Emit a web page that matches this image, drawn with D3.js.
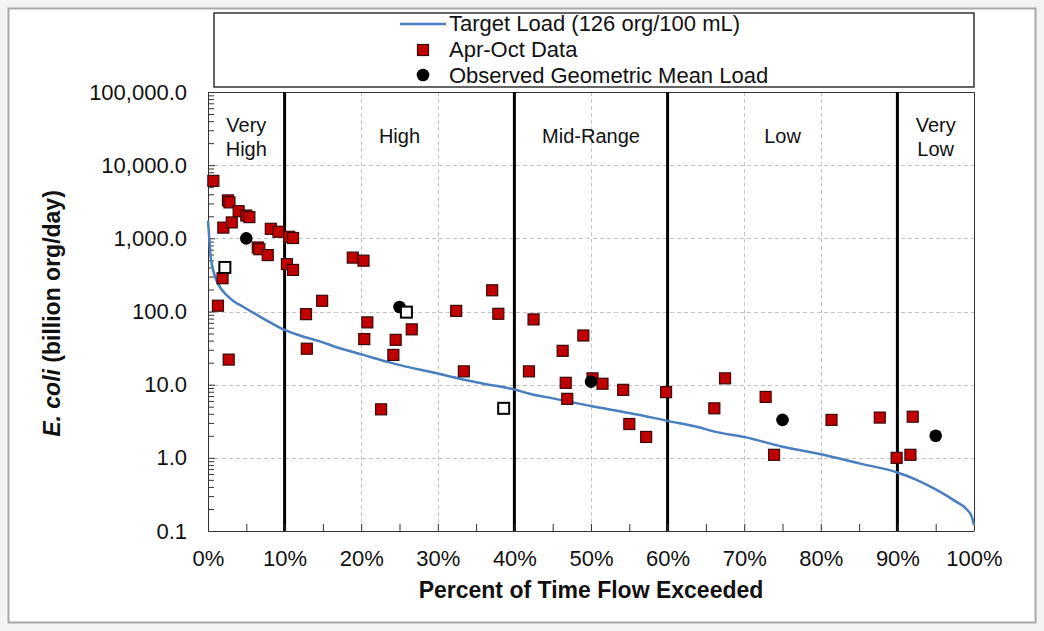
<!DOCTYPE html>
<html>
<head>
<meta charset="utf-8">
<script src="https://cdn.jsdelivr.net/npm/d3@7/dist/d3.min.js"></script>
<style>
  html, body { margin: 0; padding: 0; background: #f3f3f3; }
  svg { display: block; font-family: "Liberation Sans", Arial, sans-serif; }
</style>
</head>
<body>
<svg id="chart" width="1044" height="631"></svg>
<script>
// Load duration curve: percent of time flow exceeded vs. E. coli load (billion org/day)
const curvePct = [0, 0.2, 0.35, 0.8, 1.35, 2.5, 3.5, 4.6, 6, 8, 10, 12, 14.6, 17, 20.3, 23.8, 26, 29, 33.3, 36, 40, 42, 45, 50, 55, 60, 64.2, 66, 70.1, 75, 80, 85, 90, 92.5, 95, 97.7, 99, 99.7, 100];
const curveLoad = [1750, 900, 560, 330, 235, 165, 135, 116, 95, 72, 56, 47, 39, 32, 25.5, 20, 17.5, 15, 11.8, 10.3, 8.6, 7.5, 6.5, 5.1, 4.1, 3.2, 2.6, 2.3, 1.92, 1.42, 1.12, 0.84, 0.63, 0.5, 0.37, 0.25, 0.2, 0.157, 0.12];

// Apr-Oct samples
const aprOctPct = [0.7, 2.6, 2.8, 4.0, 5.0, 5.4, 2.0, 3.1, 8.2, 9.2, 10.6, 11.1, 6.5, 6.7, 7.8, 10.3, 11.1, 1.9, 1.3, 12.8, 12.9, 2.7, 14.9, 18.9, 20.3, 20.8, 20.4, 24.5, 24.2, 26.6, 32.4, 37.1, 37.9, 33.4, 22.6, 42.5, 49.0, 46.3, 41.9, 46.7, 46.9, 50.2, 51.5, 54.2, 55.0, 57.2, 59.8, 67.5, 66.1, 72.8, 73.9, 81.4, 87.7, 92.0, 89.9, 91.7];
const aprOctLoad = [6100, 3300, 3100, 2350, 2050, 1950, 1400, 1650, 1350, 1230, 1050, 1010, 750, 710, 590, 445, 370, 285, 120, 92, 31, 22, 140, 545, 495, 71, 42, 41, 25.5, 57, 102, 195, 93, 15.2, 4.6, 78, 47, 29, 15.2, 10.6, 6.4, 12.2, 10.3, 8.5, 2.9, 1.93, 7.9, 12.2, 4.75, 6.8, 1.1, 3.3, 3.55, 3.65, 1.0, 1.1];

// Other samples (open markers)
const otherPct = [2.2, 25.9, 38.6];
const otherLoad = [400, 98, 4.75];

// Geometric mean load per flow zone
const meanPct = [5, 25, 50, 75, 95];
const meanLoad = [1000, 115, 11, 3.3, 2.0];

// Flow zones
const zoneBreaks = [10, 40, 60, 90];
const zoneNames = [["Very", "High"], ["High"], ["Mid-Range"], ["Low"], ["Very", "Low"]];
const zoneCenters = [5, 25, 50, 75, 95];

const yTicks = [0.1, 1, 10, 100, 1000, 10000, 100000];
const xTicks = [0, 10, 20, 30, 40, 50, 60, 70, 80, 90, 100];

const svg = d3.select("#chart");
const W = 1044, H = 631;
const plot = { left: 208, right: 974, top: 92, bottom: 531 };

// Framed white panel
svg.append("rect").attr("x", 8.5).attr("y", 8.5).attr("width", 1027).attr("height", 614)
  .attr("fill", "#fff").attr("stroke", "#a9a9a9").attr("stroke-width", 2);

const x = d3.scaleLinear().domain([0, 100]).range([plot.left, plot.right]);
const y = d3.scaleLog().domain([0.1, 100000]).range([plot.bottom, plot.top]);

// Grid
const grid = svg.append("g").attr("stroke", "#c4c4c4").attr("stroke-dasharray", "4,3").attr("stroke-width", 1);
grid.selectAll("line.h").data(yTicks.slice(1, -1)).join("line")
  .attr("x1", plot.left).attr("x2", plot.right)
  .attr("y1", d => Math.round(y(d)) + 0.5).attr("y2", d => Math.round(y(d)) + 0.5);
grid.selectAll("line.v").data(xTicks.slice(1, -1).filter(d => !zoneBreaks.includes(d))).join("line")
  .attr("y1", plot.top).attr("y2", plot.bottom)
  .attr("x1", d => Math.round(x(d)) + 0.5).attr("x2", d => Math.round(x(d)) + 0.5);

// Plot frame (top/right)
svg.append("path")
  .attr("d", `M${plot.left},${plot.top + 0.5}H${plot.right + 0.5}V${plot.bottom}`)
  .attr("fill", "none").attr("stroke", "#333").attr("stroke-width", 1);

// Zone boundaries
svg.append("g").selectAll("line").data(zoneBreaks).join("line")
  .attr("x1", d => x(d)).attr("x2", d => x(d))
  .attr("y1", plot.top).attr("y2", plot.bottom)
  .attr("stroke", "#000").attr("stroke-width", 3);

// Zone labels
const zl = svg.append("g").attr("font-size", 20).attr("fill", "#111").attr("text-anchor", "middle");
zoneNames.forEach((lines, i) => {
  const t = zl.append("text").attr("x", x(zoneCenters[i]));
  if (lines.length === 2) {
    t.append("tspan").attr("x", x(zoneCenters[i])).attr("y", 132).text(lines[0]);
    t.append("tspan").attr("x", x(zoneCenters[i])).attr("y", 155.5).text(lines[1]);
  } else {
    t.attr("y", 142.5).text(lines[0]);
  }
});

// Axes
const minorY = [];
for (let e = -1; e < 5; e++) for (let m = 2; m <= 9; m++) minorY.push(m * Math.pow(10, e));
const minorX = d3.range(5, 100, 10);

const yAxis = svg.append("g").attr("transform", `translate(${plot.left},0)`)
  .call(d3.axisLeft(y).tickValues(yTicks).tickFormat(d3.format(",.1f")).tickSizeInner(-7).tickSizeOuter(0).tickPadding(21));
yAxis.append("g").call(d3.axisLeft(y).tickValues(minorY).tickFormat("").tickSizeInner(-6).tickSizeOuter(0))
  .select(".domain").remove();
yAxis.selectAll("text").attr("font-size", 22).attr("fill", "#111").attr("font-family", "Liberation Sans, Arial, sans-serif");
yAxis.selectAll("line, path").attr("stroke", "#333");

const xAxis = svg.append("g").attr("transform", `translate(0,${plot.bottom})`)
  .call(d3.axisBottom(x).tickValues(xTicks).tickFormat(d => d + "%").tickSizeInner(-7).tickSizeOuter(0).tickPadding(19));
xAxis.append("g").call(d3.axisBottom(x).tickValues(minorX).tickFormat("").tickSizeInner(-7).tickSizeOuter(0))
  .select(".domain").remove();
xAxis.selectAll("text").attr("font-size", 22).attr("fill", "#111").attr("font-family", "Liberation Sans, Arial, sans-serif");
xAxis.selectAll("line, path").attr("stroke", "#333");

// Axis titles
svg.append("text").attr("x", x(50)).attr("y", 598).attr("text-anchor", "middle")
  .attr("font-size", 23).attr("font-weight", "bold").attr("fill", "#111")
  .text("Percent of Time Flow Exceeded");
const yt = svg.append("text").attr("transform", `translate(60,${(plot.top + plot.bottom) / 2 + 2}) rotate(-90)`)
  .attr("text-anchor", "middle").attr("font-size", 23).attr("font-weight", "bold").attr("fill", "#111");
yt.append("tspan").attr("font-style", "italic").text("E. coli");
yt.append("tspan").text(" (billion org/day)");

// Target load curve
const curve = curvePct.map((p, i) => [p, curveLoad[i]]);
svg.append("path").datum(curve)
  .attr("d", d3.line().x(d => x(d[0])).y(d => y(d[1])).curve(d3.curveMonotoneX))
  .attr("fill", "none").attr("stroke", "#4a7ebf").attr("stroke-width", 2.5);

// Markers
const sq = 11;
svg.append("g").selectAll("rect").data(aprOctPct.map((p, i) => [p, aprOctLoad[i]])).join("rect")
  .attr("x", d => x(d[0]) - sq / 2).attr("y", d => y(d[1]) - sq / 2)
  .attr("width", sq).attr("height", sq)
  .attr("fill", "#c00000").attr("stroke", "#3a0a0a").attr("stroke-width", 1.2);

svg.append("g").selectAll("circle").data(meanPct.map((p, i) => [p, meanLoad[i]])).join("circle")
  .attr("cx", d => x(d[0])).attr("cy", d => y(d[1])).attr("r", 6.3)
  .attr("fill", "#000");

svg.append("g").selectAll("rect").data(otherPct.map((p, i) => [p, otherLoad[i]])).join("rect")
  .attr("x", d => x(d[0]) - 5.5).attr("y", d => y(d[1]) - 5.5)
  .attr("width", 11).attr("height", 11)
  .attr("fill", "#fff").attr("stroke", "#000").attr("stroke-width", 2);

// Legend
const lg = svg.append("g");
lg.append("rect").attr("x", 214).attr("y", 13).attr("width", 760).attr("height", 74)
  .attr("fill", "#fff").attr("stroke", "#333").attr("stroke-width", 1.5);
lg.append("line").attr("x1", 400).attr("x2", 446).attr("y1", 24).attr("y2", 24)
  .attr("stroke", "#4a7ebf").attr("stroke-width", 2.5);
lg.append("rect").attr("x", 423 - 5.5).attr("y", 50 - 5.5).attr("width", 11).attr("height", 11)
  .attr("fill", "#c00000").attr("stroke", "#3a0a0a").attr("stroke-width", 1.2);
lg.append("circle").attr("cx", 423).attr("cy", 75).attr("r", 6.3).attr("fill", "#000");
const legendText = ["Target Load (126 org/100 mL)", "Apr-Oct Data", "Observed Geometric Mean Load"];
lg.selectAll("text").data(legendText).join("text")
  .attr("x", 449).attr("y", (d, i) => 31 + i * 26)
  .attr("font-size", 22).attr("fill", "#111").text(d => d);
</script>
</body>
</html>
